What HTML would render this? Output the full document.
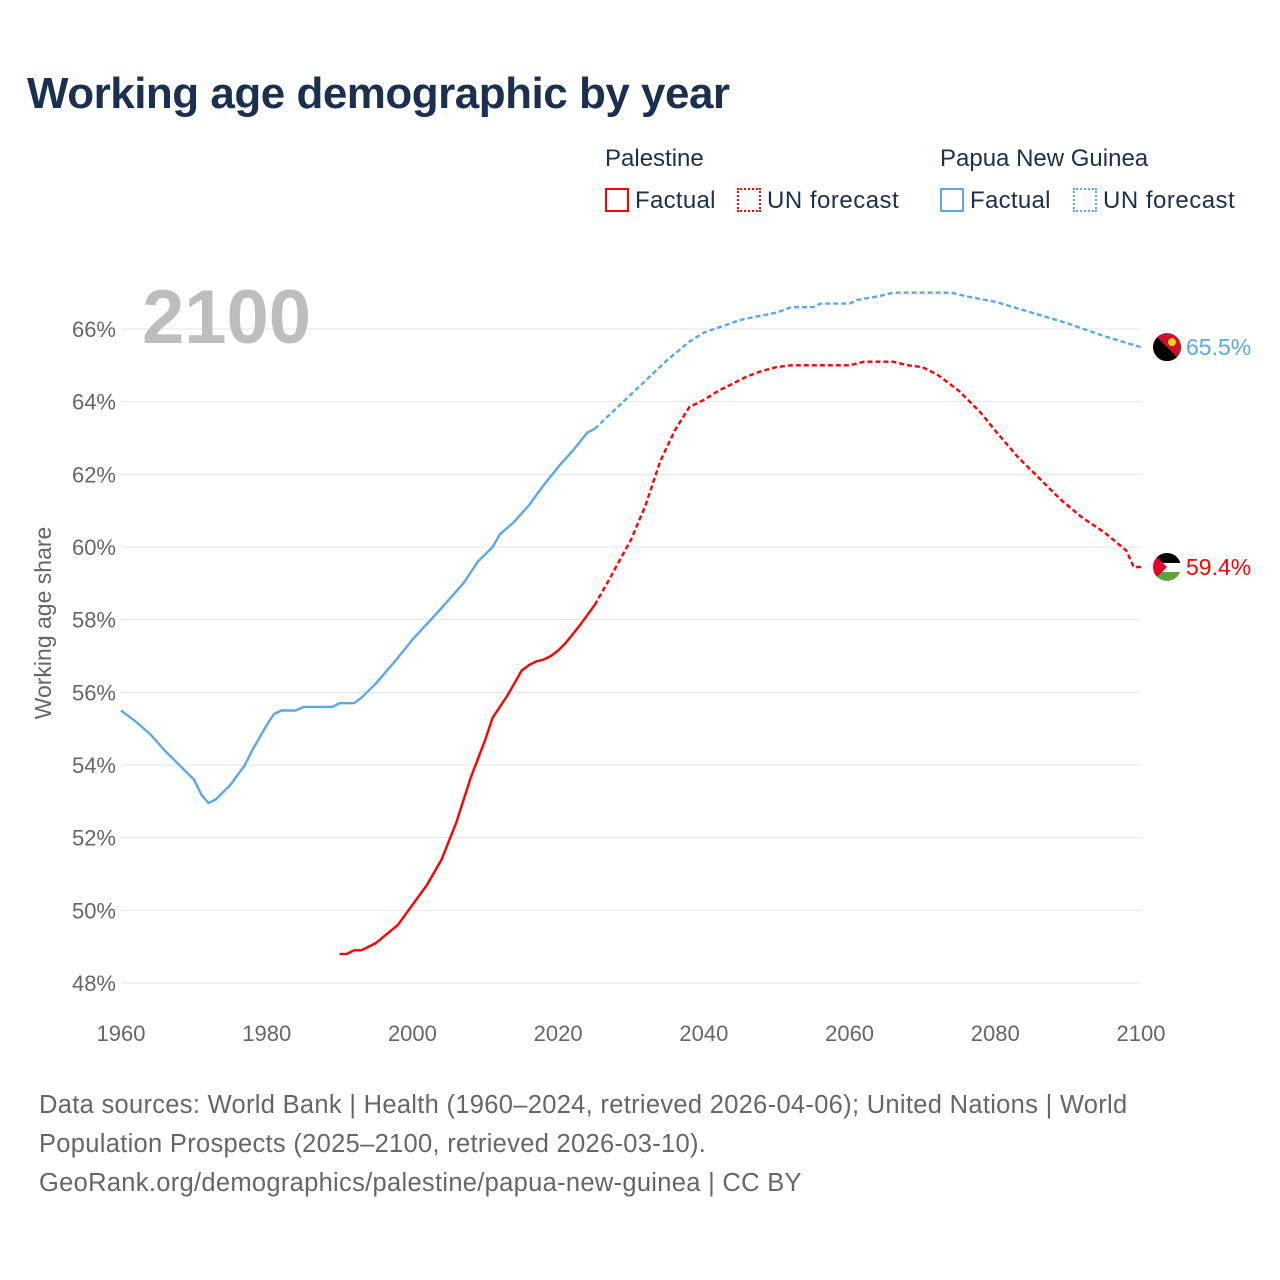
<!DOCTYPE html>
<html><head><meta charset="utf-8"><style>
body{margin:0;background:#fff;font-family:"Liberation Sans",sans-serif;}
#wrap{position:relative;width:1280px;height:1280px;overflow:hidden;}
.t{position:absolute;white-space:nowrap;}
</style></head><body>
<div id="wrap">
<div class="t" style="left:27px;top:69px;font-size:44px;font-weight:bold;color:#1b2f4e;letter-spacing:-0.5px">Working age demographic by year</div>
<div class="t" style="left:605px;top:145px;font-size:24px;color:#1b2f4e">Palestine</div>
<div class="t" style="left:940px;top:145px;font-size:24px;color:#1b2f4e">Papua New Guinea</div>
<div class="t" style="left:605px;top:187px;font-size:24px;color:#1b2f4e;letter-spacing:0.3px"><span style="display:inline-block;width:24px;height:24px;border:2px solid #f00;vertical-align:-4px;margin-right:6px;box-sizing:border-box"></span>Factual</div>
<div class="t" style="left:737px;top:187px;font-size:24px;color:#1b2f4e;letter-spacing:0.5px"><span style="display:inline-block;width:24px;height:24px;border:2px dotted #f00;vertical-align:-4px;margin-right:6px;box-sizing:border-box"></span>UN forecast</div>
<div class="t" style="left:940px;top:187px;font-size:24px;color:#1b2f4e;letter-spacing:0.3px"><span style="display:inline-block;width:24px;height:24px;border:2px solid #5ba7ea;vertical-align:-4px;margin-right:6px;box-sizing:border-box"></span>Factual</div>
<div class="t" style="left:1073px;top:187px;font-size:24px;color:#1b2f4e;letter-spacing:0.5px"><span style="display:inline-block;width:24px;height:24px;border:2px dotted #5ba7ea;vertical-align:-4px;margin-right:6px;box-sizing:border-box"></span>UN forecast</div>
<svg id="chart" width="1280" height="1280" style="position:absolute;left:0;top:0"></svg>
<div class="t" style="left:39px;top:1086px;font-size:25.5px;line-height:39px;color:#666;letter-spacing:0.3px">Data sources: World Bank | Health (1960–2024, retrieved 2026-04-06); United Nations | World<br>Population Prospects (2025–2100, retrieved 2026-03-10).<br>GeoRank.org/demographics/palestine/papua-new-guinea | CC BY</div>
</div>
<script>
const yTicks=[48,50,52,54,56,58,60,62,64,66];
const xTicks=[1960,1980,2000,2020,2040,2060,2080,2100];
const pngFactYears=[1960,1962,1964,1966,1967,1970,1971,1972,1973,1975,1977,1978,1979,1980,1981,1982,1984,1985,1989,1990,1992,1993,1995,1998,2000,2003,2005,2007,2009,2011,2012,2014,2016,2018,2020,2022,2024,2025];
const pngFactVals=[55.5,55.2,54.85,54.4,54.2,53.6,53.2,52.95,53.05,53.45,54.0,54.4,54.75,55.1,55.4,55.5,55.5,55.6,55.6,55.7,55.7,55.85,56.25,56.95,57.45,58.1,58.55,59.0,59.6,60.0,60.35,60.7,61.15,61.7,62.2,62.65,63.15,63.25];
const pngFcYears=[2025,2030,2035,2038,2040,2045,2050,2052,2055,2056,2060,2061,2064,2066,2074,2076,2080,2085,2090,2095,2100];
const pngFcVals=[63.25,64.2,65.15,65.65,65.9,66.25,66.45,66.6,66.6,66.7,66.7,66.8,66.9,67.0,67.0,66.9,66.75,66.45,66.15,65.8,65.5];
const palFactYears=[1990,1991,1992,1993,1995,1998,2000,2002,2004,2006,2008,2010,2011,2013,2014,2015,2016,2017,2018,2019,2020,2021,2022,2023,2025];
const palFactVals=[48.8,48.8,48.9,48.9,49.1,49.6,50.15,50.7,51.4,52.4,53.65,54.7,55.3,55.9,56.25,56.6,56.75,56.85,56.9,57.0,57.15,57.35,57.6,57.85,58.4];
const palFcYears=[2025,2027,2030,2032,2034,2036,2038,2040,2042,2044,2046,2048,2050,2052,2060,2062,2066,2068,2070,2072,2075,2078,2080,2083,2086,2089,2092,2095,2098,2099,2100];
const palFcVals=[58.4,59.1,60.2,61.15,62.35,63.2,63.85,64.05,64.3,64.5,64.7,64.85,64.95,65.0,65.0,65.1,65.1,65.0,64.95,64.75,64.3,63.7,63.2,62.5,61.9,61.3,60.8,60.4,59.9,59.45,59.45];
const endLabels=["65.5%","59.4%"];
const X=y=>121+(y-1960)*(1020/140);
const Y=v=>983-(v-48)*(654/18);
const NS="http://www.w3.org/2000/svg";
const svg=document.getElementById('chart');
function mk(tag,attrs){const e=document.createElementNS(NS,tag);for(const k in attrs)e.setAttribute(k,attrs[k]);svg.appendChild(e);return e;}
yTicks.forEach(v=>{
 const l=mk('line',{x1:121,x2:1141,y1:Y(v),y2:Y(v),stroke:'#e6e6e6','stroke-width':1});
 
 
 const t=mk('text',{x:116,y:Y(v)+8,'text-anchor':'end','font-size':22,fill:'#666','font-family':'Liberation Sans, sans-serif'});
 t.textContent=v+'%';
 
 
});
xTicks.forEach(y=>{
 const t=mk('text',{x:X(y),y:1041,'text-anchor':'middle','font-size':22,fill:'#666','font-family':'Liberation Sans, sans-serif'});
 t.textContent=y;
 
 
});
const yt=mk('text',{x:0,y:0,transform:'translate(51,623) rotate(-90)','text-anchor':'middle','font-size':23,fill:'#666','font-family':'Liberation Sans, sans-serif'});
yt.textContent='Working age share';


const yr=mk('text',{x:142,y:343,'font-size':76,'font-weight':'bold',fill:'#bdbdbd','font-family':'Liberation Sans, sans-serif'});
yr.textContent='2100';


function line(xs,vs,color,dash,name){
 const p=mk('path',{d:xs.map((x,i)=>(i?'L':'M')+X(x).toFixed(1)+','+Y(vs[i]).toFixed(1)).join(''),fill:'none',stroke:color,'stroke-width':2.4,'stroke-linejoin':'round'});
 if(dash)p.setAttribute('stroke-dasharray','5,3');
 
 
}
line(pngFactYears,pngFactVals,'#5ba7ea',false,'png-factual-line');
line(pngFcYears,pngFcVals,'#5ba7ea',true,'png-forecast-line');
line(palFactYears,palFactVals,'#ff0000',false,'palestine-factual-line');
line(palFcYears,palFcVals,'#ff0000',true,'palestine-forecast-line');
const py=Y(pngFcVals[pngFcVals.length-1]), ly=Y(palFcVals[palFcVals.length-1]);
const cx=1167;
const d=mk('defs',{});
d.innerHTML='<clipPath id="c1"><circle cx="'+cx+'" cy="'+py+'" r="14"/></clipPath><clipPath id="c2"><circle cx="'+cx+'" cy="'+ly+'" r="14"/></clipPath>';
const g1=mk('g',{'clip-path':'url(#c1)'});


g1.innerHTML='<rect x="'+(cx-14)+'" y="'+(py-14)+'" width="28" height="28" fill="#000"/><polygon points="'+(cx-14)+','+(py-14)+' '+(cx+14)+','+(py-14)+' '+(cx+14)+','+(py+14)+'" fill="#ce1126"/><circle cx="'+(cx+5)+'" cy="'+(py-5)+'" r="4" fill="#fcd116"/>';
const g2=mk('g',{'clip-path':'url(#c2)'});


g2.innerHTML='<rect x="'+(cx-14)+'" y="'+(ly-14)+'" width="28" height="10" fill="#000"/><rect x="'+(cx-14)+'" y="'+(ly-4)+'" width="28" height="9" fill="#fff"/><rect x="'+(cx-14)+'" y="'+(ly+5)+'" width="28" height="10" fill="#5da536"/><polygon points="'+(cx-14)+','+(ly-14)+' '+(cx)+','+ly+' '+(cx-14)+','+(ly+14)+'" fill="#e4002b"/>';
const l1=mk('text',{x:1186,y:py+8,'font-size':23,fill:'#5ba7ea','font-family':'Liberation Sans, sans-serif'});
l1.textContent=endLabels[0];


const l2=mk('text',{x:1186,y:ly+8,'font-size':23,fill:'#ff0000','font-family':'Liberation Sans, sans-serif'});
l2.textContent=endLabels[1];


</script>
</body></html>
